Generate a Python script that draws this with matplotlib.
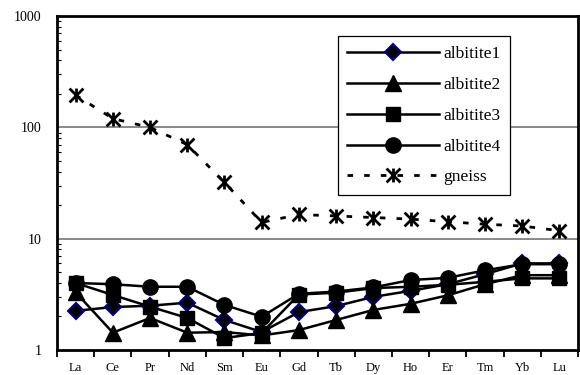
import numpy as np
import matplotlib.pyplot as plt
from matplotlib.path import Path
from matplotlib.ticker import LogLocator, NullFormatter, FixedLocator

plt.rcParams['font.family'] = ['Liberation Serif', 'DejaVu Serif']

unsur = ["La", "Ce", "Pr", "Nd", "Sm", "Eu", "Gd", "Tb", "Dy", "Ho", "Er", "Tm", "Yb", "Lu"]

albitite1 = [2.25, 2.43, 2.5, 2.66, 1.86, 1.45, 2.19, 2.48, 3.0, 3.4, 3.9, 4.8, 6.0, 6.0]
albitite2 = [3.3, 1.43, 1.94, 1.43, 1.45, 1.35, 1.51, 1.86, 2.29, 2.6, 3.1, 3.9, 4.7, 4.7]
albitite3 = [4.0, 3.12, 2.45, 1.94, 1.28, 1.42, 3.15, 3.27, 3.6, 3.7, 3.85, 4.1, 4.4, 4.4]
albitite4 = [4.0, 3.9, 3.7, 3.7, 2.54, 1.99, 3.2, 3.35, 3.65, 4.25, 4.45, 5.2, 5.9, 5.9]
gneiss = [195, 120, 100, 70, 32, 14, 16.5, 16, 15.5, 15, 14.2, 13.5, 13, 11.8]

# marker bintang ala excel: X + garis vertikal
bintang = Path([(0, -1), (0, 1), (-1, -1), (1, 1), (-1, 1), (1, -1)],
               [Path.MOVETO, Path.LINETO] * 3)

fig = plt.figure(figsize=(5.8, 3.75), dpi=100)
ax = fig.add_axes([0.0983, 0.0667, 0.8983, 0.8903])

x = np.arange(len(unsur))
ax.plot(x, albitite1, color="black", lw=1.8, marker="D", ms=8.5,
        mfc="black", mec="#000080", mew=1.5, label="albitite1", zorder=3)
ax.plot(x, albitite2, color="black", lw=1.8, marker="^", ms=11,
        mfc="black", mec="black", label="albitite2", zorder=3)
ax.plot(x, albitite3, color="black", lw=1.8, marker="s", ms=10.5,
        mfc="black", mec="black", label="albitite3", zorder=3)
ax.plot(x, albitite4, color="black", lw=1.8, marker="o", ms=11,
        mfc="black", mec="black", label="albitite4", zorder=3)
ax.plot(x, gneiss, color="black", lw=2, dashes=(2, 4), marker=bintang, ms=10,
        mew=2, mec="black", label="gneiss", zorder=3)

ax.set_yscale("log")
ax.set_ylim(1, 1000)
ax.set_xlim(-0.5, 13.5)

ax.yaxis.set_major_locator(FixedLocator([1, 10, 100, 1000]))
ax.set_yticklabels(["1", "10", "100", "1000"], fontsize=10)
ax.yaxis.set_minor_locator(LogLocator(base=10, subs=np.arange(2, 10)))
ax.yaxis.set_minor_formatter(NullFormatter())
ax.tick_params(axis="y", which="major", length=0, pad=11)
ax.tick_params(axis="y", which="minor", direction="in", length=3, width=0.8)

for v in [10, 100]:
    ax.axhline(v, color="#808080", lw=1.3, zorder=1)

ax.set_xticks(np.arange(-0.5, 14, 1))
ax.set_xticklabels([])
ax.set_xticks(x, minor=True)
ax.set_xticklabels(unsur, minor=True, fontsize=9)
ax.tick_params(axis="x", which="major", direction="out", length=5, width=1.3)
ax.tick_params(axis="x", which="minor", length=0, pad=9)

for s in ax.spines.values():
    s.set_linewidth(2)
    s.set_color("black")

leg = ax.legend(loc="upper left", bbox_to_anchor=(0.539, 0.94), borderaxespad=0,
                fontsize=12.5, handlelength=5.3, handletextpad=0.2, labelspacing=0.85,
                borderpad=0.55, fancybox=False, framealpha=1, edgecolor="black")
leg.get_frame().set_linewidth(0.9)

plt.savefig("out.png", dpi=100)
plt.close()
